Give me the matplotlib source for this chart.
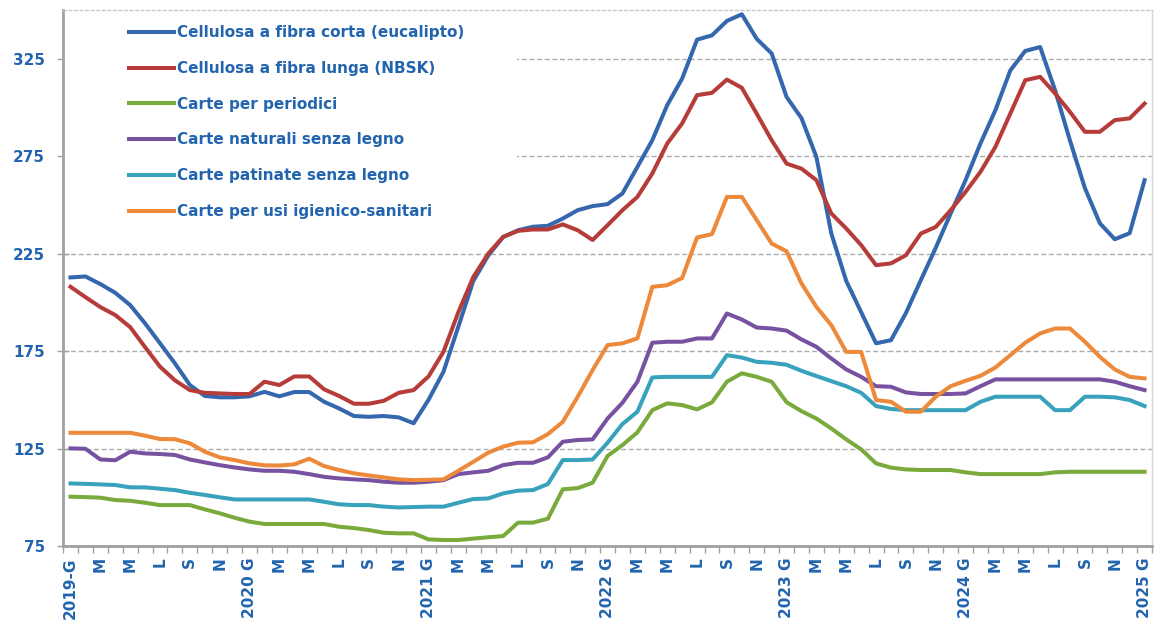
import matplotlib
matplotlib.use("Agg")
import matplotlib.pyplot as plt
import numpy as np
from matplotlib.patches import Rectangle

# monthly price indices, Jan 2019 .. Jan 2025
eucalipto = [212.8, 213.3, 209.4, 204.9, 198.6, 189.2, 179.0, 168.7, 157.6, 152.0,
             151.3, 151.3, 151.8, 154.1, 151.8, 154.0, 154.0, 149.0, 145.6, 141.7,
             141.3, 141.7, 141.0, 138.0, 150.0, 164.4, 187.6, 211.0, 224.0, 233.5,
             237.0, 238.8, 239.3, 243.0, 247.3, 249.4, 250.4, 255.9, 269.5, 283.2,
             301.2, 314.8, 334.8, 337.0, 344.4, 347.8, 335.2, 327.7, 305.4, 294.5,
             274.6, 235.3, 211.0, 195.0, 179.0, 180.6, 194.5, 211.4, 228.0, 245.6,
             262.7, 281.6, 298.6, 319.0, 329.0, 331.0, 308.8, 283.0, 258.6, 240.6,
             232.4, 235.5, 262.7]
nbsk = [208.0, 202.7, 197.6, 193.5, 187.3, 177.0, 167.0, 160.0, 155.0, 153.6,
        153.3, 153.0, 153.0, 159.3, 157.6, 162.0, 162.0, 155.4, 152.0, 148.0,
        148.0, 149.5, 153.6, 155.0, 162.0, 174.6, 195.0, 213.0, 225.0, 233.6,
        236.7, 237.4, 237.4, 240.0, 237.0, 232.0, 239.6, 247.3, 254.1, 266.1,
        281.5, 291.8, 306.3, 307.5, 314.3, 310.1, 296.8, 283.2, 271.2, 268.6,
        262.7, 245.6, 237.9, 229.4, 219.1, 220.0, 224.2, 235.3, 238.7, 247.3,
        256.7, 267.0, 279.8, 296.9, 314.0, 315.7, 307.2, 297.7, 287.5, 287.5,
        293.5, 294.4, 302.0]
periodici = [100.3, 100.1, 99.8, 98.6, 98.2, 97.2, 96.0, 96.0, 96.0, 93.8,
             91.8, 89.5, 87.5, 86.3, 86.3, 86.3, 86.3, 86.3, 84.9, 84.2,
             83.2, 81.8, 81.5, 81.5, 78.4, 78.1, 78.1, 78.8, 79.5, 80.1,
             87.0, 87.0, 89.0, 104.1, 104.7, 107.5, 121.2, 126.8, 133.3, 144.7,
             148.2, 147.3, 145.1, 148.7, 159.3, 163.6, 161.8, 159.3, 148.8, 144.2,
             140.4, 135.3, 129.7, 124.6, 117.4, 115.2, 114.3, 114.0, 114.0, 114.0,
             112.8, 111.9, 111.9, 111.9, 111.9, 111.9, 112.8, 113.1, 113.1, 113.1,
             113.1, 113.1, 113.1]
naturali = [125.1, 124.9, 119.4, 119.0, 123.4, 122.5, 122.2, 121.7, 119.4, 117.9,
            116.5, 115.3, 114.3, 113.6, 113.6, 113.1, 111.9, 110.5, 109.7, 109.2,
            108.8, 108.0, 107.5, 107.5, 108.0, 108.8, 111.9, 112.8, 113.6, 116.5,
            117.7, 117.7, 120.5, 128.5, 129.4, 129.7, 140.4, 148.5, 159.3, 179.3,
            179.8, 179.8, 181.5, 181.5, 194.3, 191.2, 187.1, 186.6, 185.5, 181.0,
            177.2, 171.2, 165.6, 161.8, 157.0, 156.7, 153.8, 153.0, 153.0, 153.0,
            153.3, 157.0, 160.5, 160.5, 160.5, 160.5, 160.5, 160.5, 160.5, 160.5,
            159.3, 157.0, 155.0]
patinate = [107.1, 106.9, 106.6, 106.3, 105.1, 105.1, 104.4, 103.7, 102.3, 101.2,
            100.0, 98.9, 98.9, 98.9, 98.9, 98.9, 98.9, 97.7, 96.4, 96.0,
            96.0, 95.2, 94.8, 95.0, 95.2, 95.2, 97.2, 99.1, 99.4, 102.0,
            103.4, 103.7, 106.8, 119.1, 119.1, 119.4, 128.0, 137.6, 143.9, 161.5,
            161.8, 161.8, 161.8, 161.8, 172.9, 171.7, 169.5, 169.0, 168.0, 164.9,
            162.2, 159.6, 157.0, 153.6, 146.8, 145.3, 144.7, 144.7, 144.7, 144.7,
            144.7, 149.0, 151.6, 151.6, 151.6, 151.6, 144.7, 144.7, 151.6, 151.6,
            151.3, 149.9, 146.8]
igienico = [133.1, 133.1, 133.1, 133.1, 133.1, 131.6, 129.9, 129.8, 127.7, 123.4,
            120.5, 119.1, 117.4, 116.4, 116.3, 116.9, 119.8, 116.0, 114.0, 112.3,
            111.2, 110.2, 109.2, 108.8, 109.0, 109.2, 113.6, 118.2, 122.9, 126.0,
            128.0, 128.2, 132.4, 138.7, 151.6, 165.3, 178.1, 179.0, 181.5, 208.0,
            208.8, 212.5, 233.3, 235.0, 254.1, 254.1, 242.2, 230.2, 226.2, 209.7,
            197.7, 188.3, 174.6, 174.6, 149.9, 149.0, 143.9, 143.9, 151.6, 157.0,
            159.8, 162.3, 166.6, 172.9, 179.3, 184.1, 186.6, 186.6, 179.8, 172.1,
            165.6, 161.8, 161.0]

series_names = ["Cellulosa a fibra corta (eucalipto)", "Cellulosa a fibra lunga (NBSK)",
                "Carte per periodici", "Carte naturali senza legno",
                "Carte patinate senza legno", "Carte per usi igienico-sanitari"]
series_colors = ["#3467ae", "#b63c3a", "#7aaa3c", "#7752a0", "#38a1bb", "#ec893a"]

month_letters = ["G", "M", "M", "L", "S", "N"]
years = [2019, 2020, 2021, 2022, 2023, 2024, 2025]
y_ticks = [75, 125, 175, 225, 275, 325]

TEXT_BLUE = "#2265ae"

n_months = len(eucalipto)
x = np.arange(n_months)

tick_labels = []
for k in range(0, n_months, 2):
    letter = month_letters[(k % 12) // 2]
    if k % 12 == 0:
        year = years[k // 12]
        sep = "-" if k == 0 else " "
        tick_labels.append(f"{year}{sep}{letter}")
    else:
        tick_labels.append(letter)

fig = plt.figure(figsize=(11.59, 6.33), dpi=100)
ax = fig.add_axes([0.0544, 0.1374, 0.9396, 0.8468])

for values, name, color in zip([eucalipto, nbsk, periodici, naturali, patinate, igienico],
                               series_names, series_colors):
    ax.plot(x, values, color=color, lw=2.9, label=name, solid_joinstyle="round", zorder=2)

ax.set_xlim(-0.5, n_months - 0.5)
ax.set_ylim(75, 350)

ax.set_yticks(y_ticks)
ax.set_yticklabels([str(v) for v in y_ticks], color=TEXT_BLUE, fontsize=11, fontweight="bold")
ax.tick_params(axis="y", direction="inout", length=8, width=1, color="#a0a0a0", pad=9)

ax.set_xticks(np.arange(0, n_months, 2))
ax.set_xticklabels(tick_labels, rotation=90, color=TEXT_BLUE, fontsize=11, fontweight="bold")
ax.set_xticks(np.arange(-0.5, n_months, 1), minor=True)
ax.tick_params(axis="x", which="major", length=0, pad=8)
ax.tick_params(axis="x", which="minor", direction="out", length=5, width=1, color="#a0a0a0")

ax.set_axisbelow(True)
ax.yaxis.grid(True, color="#ababab", lw=1, linestyle=(0, (3.5, 2)))

for side in ("left", "bottom"):
    ax.spines[side].set_color("#a0a0a0")
    ax.spines[side].set_linewidth(2)
ax.spines["right"].set_color("#d6d6d6")
ax.spines["right"].set_linewidth(1)
ax.spines["top"].set_color("#c8c8c8")
ax.spines["top"].set_linewidth(1)
ax.spines["top"].set_linestyle((0, (2, 2)))

# white box behind the legend hides the grid there
ax.add_patch(Rectangle((0, 0.58), 0.417, 0.42, transform=ax.transAxes,
                       facecolor="white", edgecolor="none", zorder=1))

leg = ax.legend(loc="upper left", bbox_to_anchor=(0.054, 0.986), frameon=False,
                borderpad=0, handlelength=2.9, handletextpad=0.2, labelspacing=1.36,
                prop={"size": 11, "weight": "bold"})
for txt in leg.get_texts():
    txt.set_color(TEXT_BLUE)

fig.savefig("out.png", dpi=100)
